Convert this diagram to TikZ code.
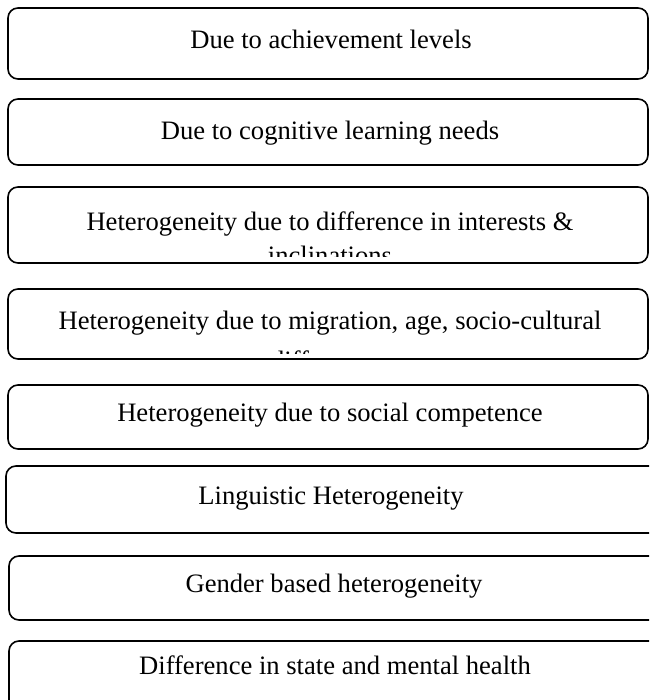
\documentclass[tikz,border=0pt]{standalone}
\usepackage{fontspec}
\setmainfont{Liberation Serif}
\begin{document}
\begin{tikzpicture}[x=1pt,y=-1pt,
  boxline/.style={draw=black,line width=1.6pt,rounded corners=10pt},
  lbl/.style={anchor=base,inner sep=0pt,font=\fontsize{26.6}{30.6}\selectfont}]
\clip (0,0) rectangle (649,700);
\fill[white] (0,0) rectangle (649,700);
% boxes
\draw[boxline] (8,8) rectangle (648,79);
\draw[boxline] (8,99) rectangle (648,165);
\draw[boxline] (8,187) rectangle (648,263);
\draw[boxline] (8,289) rectangle (648,359);
\draw[boxline] (8,385) rectangle (648,449);
\draw[boxline] (6,466) rectangle (670,533);
\draw[boxline] (9,556) rectangle (670,620);
\draw[boxline] (9,641) rectangle (670,720);
% texts
\node[lbl] (t1) at (331,49) {Due to achievement levels};
\node[lbl] (t2) at (330,140) {Due to cognitive learning needs};
\begin{scope}
\clip (10,189) rectangle (646,256);
\node[lbl] (t3) at (330,231) {Heterogeneity due to difference in interests \&};
\node[lbl] (t3b) at (330,265) {inclinations};
\end{scope}
\begin{scope}
\clip (10,291) rectangle (646,353);
\node[lbl] (t4) at (330,329) {Heterogeneity due to migration, age, socio-cultural};
\node[lbl] (t4b) at (330,369) {differences};
\end{scope}
\node[lbl] (t5) at (330,421) {Heterogeneity due to social competence};
\node[lbl] (t6) at (331,504) {Linguistic Heterogeneity};
\node[lbl] (t7) at (334,592) {Gender based heterogeneity};
\node[lbl] (t8) at (335,674) {Difference in state and mental health};
\end{tikzpicture}
\end{document}
